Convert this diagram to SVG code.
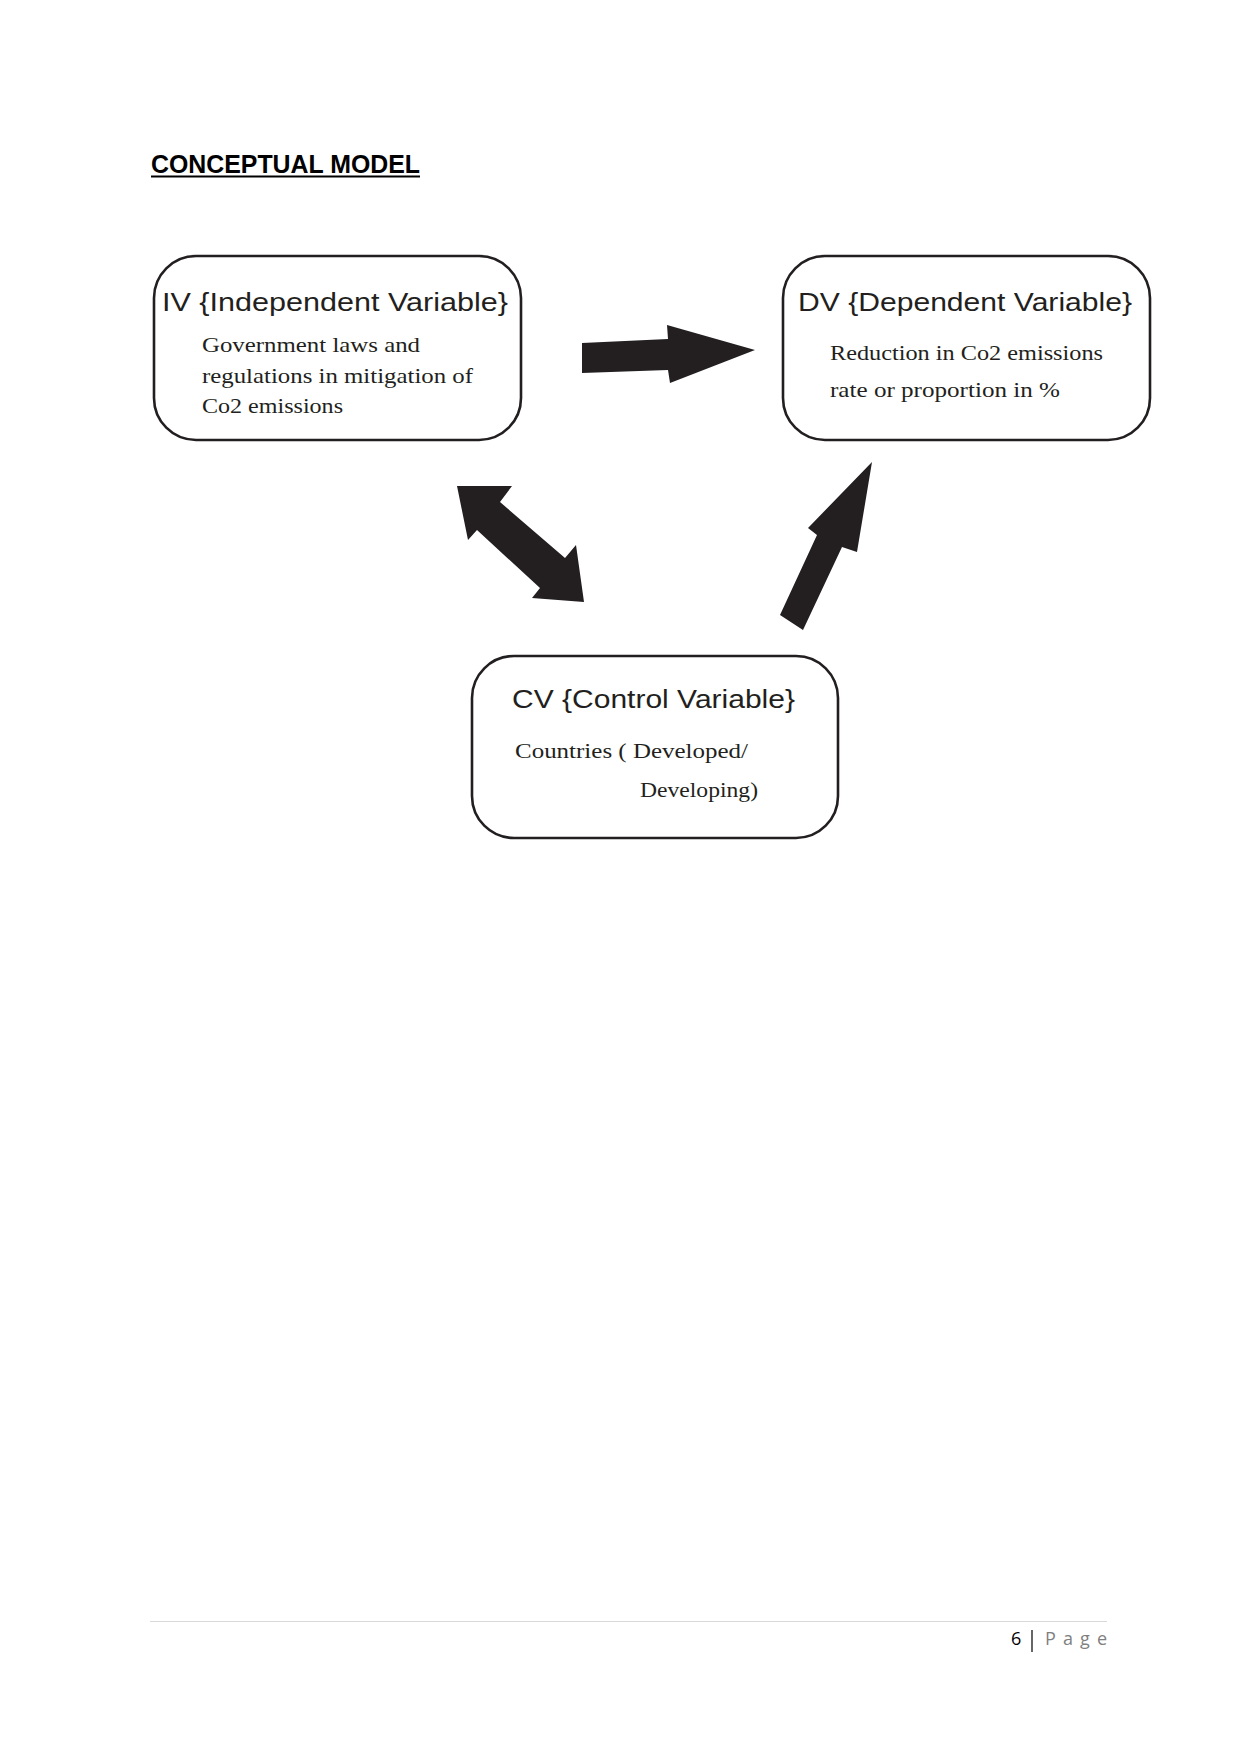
<svg xmlns="http://www.w3.org/2000/svg" width="1241" height="1754" viewBox="0 0 1241 1754">
<style>
.box{fill:#fff;stroke:#231f20;stroke-width:2.6}
.hdr{font-family:"Liberation Sans","DejaVu Sans",sans-serif;font-size:25px;fill:#231f20}
.body{font-family:"Liberation Serif","DejaVu Serif",serif;font-size:22px;fill:#231f20}
.arrow{fill:#231f20}
</style>
<rect width="1241" height="1754" fill="#fff"/>
<g id="title">
<text x="151" y="173" font-family="Liberation Sans, Arial, sans-serif" font-size="25" font-weight="bold" fill="#000" textLength="269" lengthAdjust="spacingAndGlyphs">CONCEPTUAL MODEL</text>
<line x1="151" y1="176.5" x2="420" y2="176.5" stroke="#000" stroke-width="2"/>
</g>
<g id="node-iv">
<rect class="box" x="154" y="256" width="367" height="184" rx="42" ry="42"/>
<text class="hdr" x="162" y="311" textLength="346" lengthAdjust="spacingAndGlyphs">IV {Independent Variable}</text>
<text class="body" x="202" y="352" textLength="218" lengthAdjust="spacingAndGlyphs">Government laws and</text>
<text class="body" x="202" y="383" textLength="271" lengthAdjust="spacingAndGlyphs">regulations in mitigation of</text>
<text class="body" x="202" y="413" textLength="141" lengthAdjust="spacingAndGlyphs">Co2 emissions</text>
</g>
<g id="node-dv">
<rect class="box" x="783" y="256" width="367" height="184" rx="42" ry="42"/>
<text class="hdr" x="798" y="311" textLength="334" lengthAdjust="spacingAndGlyphs">DV {Dependent Variable}</text>
<text class="body" x="830" y="360" textLength="273" lengthAdjust="spacingAndGlyphs">Reduction in Co2 emissions</text>
<text class="body" x="830" y="397" textLength="230" lengthAdjust="spacingAndGlyphs">rate or proportion in %</text>
</g>
<g id="node-cv">
<rect class="box" x="472" y="656" width="366" height="182" rx="42" ry="42"/>
<text class="hdr" x="512" y="708" textLength="283" lengthAdjust="spacingAndGlyphs">CV {Control Variable}</text>
<text class="body" x="515" y="758" textLength="233" lengthAdjust="spacingAndGlyphs">Countries ( Developed/</text>
<text class="body" x="640" y="797" textLength="118" lengthAdjust="spacingAndGlyphs">Developing)</text>
</g>
<g id="connectors">
<polygon class="arrow" points="582,343 668,339 667,325 755,350 670,383 668,370 582,373"/>
<polygon class="arrow" points="457,486 512,486 500,502 565,558 576,545 584,602 532,598 540,588 477,530 468,540"/>
<polygon class="arrow" points="872,462 857,552 842,547 803,630 780,615 817,535 808,528"/>
</g>
<g id="footer">
<line x1="150" y1="1621.5" x2="1107" y2="1621.5" stroke="#d9d9d9" stroke-width="1"/>
<text x="1011" y="1645" font-family="Open Sans, Liberation Sans, sans-serif" font-size="18" fill="#000">6</text>
<line x1="1032" y1="1630" x2="1032" y2="1652" stroke="#000" stroke-width="1.2"/>
<text x="1045" y="1645" font-family="Open Sans, Liberation Sans, sans-serif" font-size="18" fill="#7f7f7f" textLength="62" lengthAdjust="spacing">Page</text>
</g>
</svg>
